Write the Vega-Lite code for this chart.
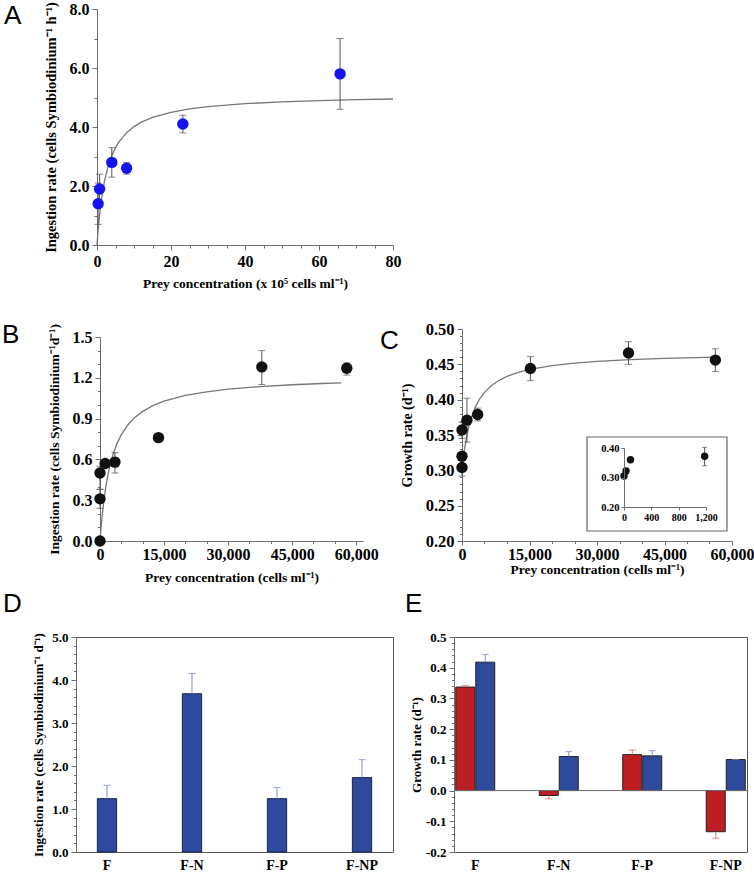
{
  "$schema": "https://vega.github.io/schema/vega-lite/v6.json",
  "padding": {"left": 2, "top": 1, "right": 5, "bottom": 0},
  "background": "white",
  "config": {
    "view": {"stroke": null},
    "axis": {"grid": false, "labelOverlap": false, "labelFlush": false, "domainColor": "#6e6e6e", "tickColor": "#6e6e6e", "labelColor": "#000", "titleColor": "#000", "labelFont": "Liberation Serif", "titleFont": "Liberation Serif", "labelFontWeight": "bold", "titleFontWeight": "bold", "tickSize": 5, "labelPadding": 3},
    "title": {"font": "Liberation Sans", "fontWeight": "normal", "fontSize": 26, "anchor": "start", "frame": "group", "offset": 0, "baseline": "alphabetic", "color": "#000"}
  },
  "datasets": {
    "curveA": [{"x":0,"y":0},{"x":0.25,"y":0.425},{"x":0.5,"y":0.785},{"x":1,"y":1.362},{"x":1.5,"y":1.803},{"x":2,"y":2.151},{"x":3,"y":2.667},{"x":4,"y":3.03},{"x":5,"y":3.299},{"x":6,"y":3.507},{"x":8,"y":3.807},{"x":10,"y":4.013},{"x":12,"y":4.163},{"x":15,"y":4.324},{"x":20,"y":4.499},{"x":25,"y":4.611},{"x":30,"y":4.689},{"x":40,"y":4.79},{"x":50,"y":4.852},{"x":60,"y":4.895},{"x":70,"y":4.926},{"x":80,"y":4.949}],
    "ptsA": [{"x":0.3,"y":1.4,"lo":0.7,"hi":2.1},{"x":0.7,"y":1.9,"lo":1.4,"hi":2.4},{"x":4.0,"y":2.8,"lo":2.3,"hi":3.3},{"x":8.0,"y":2.6,"lo":2.4,"hi":2.8},{"x":23.2,"y":4.1,"lo":3.8,"hi":4.4},{"x":65.7,"y":5.8,"lo":4.6,"hi":7.0}],
    "curveB": [{"x":0,"y":0},{"x":250,"y":0.1},{"x":500,"y":0.185},{"x":1000,"y":0.321},{"x":1500,"y":0.426},{"x":2000,"y":0.508},{"x":3000,"y":0.631},{"x":4000,"y":0.718},{"x":5000,"y":0.782},{"x":6500,"y":0.853},{"x":8000,"y":0.904},{"x":10000,"y":0.953},{"x":12500,"y":0.997},{"x":15000,"y":1.028},{"x":20000,"y":1.07},{"x":25000,"y":1.097},{"x":30000,"y":1.116},{"x":37500,"y":1.135},{"x":45000,"y":1.149},{"x":52000,"y":1.158},{"x":56500,"y":1.162}],
    "ptsB": [{"x":0,"y":0.0},{"x":0,"y":0.31,"lo":0.24,"hi":0.38},{"x":0,"y":0.5,"lo":0.38,"hi":0.55},{"x":1200,"y":0.57},{"x":3500,"y":0.58,"lo":0.5,"hi":0.65},{"x":13700,"y":0.76},{"x":37900,"y":1.28,"lo":1.15,"hi":1.4},{"x":57800,"y":1.27,"lo":1.22,"hi":1.31}],
    "curveC": [{"x":0,"y":0.3},{"x":250,"y":0.3148},{"x":500,"y":0.3271},{"x":1000,"y":0.3467},{"x":1500,"y":0.3614},{"x":2000,"y":0.373},{"x":3000,"y":0.3899},{"x":4000,"y":0.4017},{"x":5000,"y":0.4103},{"x":6500,"y":0.4197},{"x":8000,"y":0.4265},{"x":10000,"y":0.433},{"x":12500,"y":0.4387},{"x":15000,"y":0.4428},{"x":20000,"y":0.4482},{"x":25000,"y":0.4517},{"x":30000,"y":0.4541},{"x":37500,"y":0.4566},{"x":45000,"y":0.4583},{"x":52000,"y":0.4595},{"x":56500,"y":0.4601}],
    "ptsC": [{"x":0,"y":0.304,"lo":0.292,"hi":0.316},{"x":0,"y":0.32},{"x":0,"y":0.357,"lo":0.345,"hi":0.368},{"x":1100,"y":0.371,"lo":0.34,"hi":0.402},{"x":3480,"y":0.379,"lo":0.37,"hi":0.388},{"x":15200,"y":0.444,"lo":0.427,"hi":0.461},{"x":37000,"y":0.466,"lo":0.45,"hi":0.482},{"x":56300,"y":0.456,"lo":0.44,"hi":0.472}],
    "ptsInset": [{"x":0,"y":0.305},{"x":30,"y":0.322},{"x":95,"y":0.36},{"x":1180,"y":0.372,"lo":0.34,"hi":0.402}],
    "barsD": [{"cat":"F","v":1.24,"hi":1.55},{"cat":"F-N","v":3.68,"hi":4.15},{"cat":"F-P","v":1.24,"hi":1.5},{"cat":"F-NP","v":1.73,"hi":2.15}],
    "barsE": [{"cat":"F","s":"r","v":0.337,"e":0.342},{"cat":"F","s":"b","v":0.418,"e":0.443},{"cat":"F-N","s":"r","v":-0.016,"e":-0.027},{"cat":"F-N","s":"b","v":0.111,"e":0.127},{"cat":"F-P","s":"r","v":0.117,"e":0.132},{"cat":"F-P","s":"b","v":0.113,"e":0.13},{"cat":"F-NP","s":"r","v":-0.134,"e":-0.155},{"cat":"F-NP","s":"b","v":0.101,"e":0.101}]
  },
  "bounds": "flush",
  "columns": 2,
  "spacing": {"row": 84, "column": 61},
  "concat": [
    {
      "width": 317, "height": 236,
      "title": {"text": "A", "dx": -72, "dy": 32},
      "layer": [
        {"layer": [
          {"data": {"name": "curveA"}, "mark": {"type": "line", "color": "#777", "strokeWidth": 1.3},
           "encoding": {
             "x": {"field": "x", "type": "quantitative", "scale": {"domain": [0, 80], "range": [21, 317], "nice": false}, "axis": {"orient": "bottom", "values": [0,20,40,60,80], "labelFlush": false, "title": "Prey concentration (x 10⁵ cells ml⁻¹)", "labelFontSize": 16, "titleFontSize": 13.5, "titlePadding": 7}},
             "y": {"field": "y", "type": "quantitative", "scale": {"domain": [0, 8], "nice": false}, "axis": {"orient": "left", "values": [0,2,4,6,8], "labelExpr": "format(datum.value, '.1f')", "offset": -21, "title": "Ingestion rate (cells Symbiodinium⁻¹ h⁻¹)", "labelFontSize": 16, "titleFontSize": 14.5, "titlePadding": 11}}
           }},
          {"data": {"name": "ptsA"}, "mark": {"type": "rule", "color": "#555"},
           "encoding": {"x": {"field": "x", "type": "quantitative"}, "y": {"field": "lo", "type": "quantitative"}, "y2": {"field": "hi"}}},
          {"data": {"name": "ptsA"}, "mark": {"type": "tick", "orient": "horizontal", "size": 7, "thickness": 1, "color": "#555"},
           "encoding": {"x": {"field": "x", "type": "quantitative"}, "y": {"field": "lo", "type": "quantitative"}}},
          {"data": {"name": "ptsA"}, "mark": {"type": "tick", "orient": "horizontal", "size": 7, "thickness": 1, "color": "#555"},
           "encoding": {"x": {"field": "x", "type": "quantitative"}, "y": {"field": "hi", "type": "quantitative"}}},
          {"data": {"name": "ptsA"}, "mark": {"type": "circle", "size": 130, "color": "#1414f0", "opacity": 1},
           "encoding": {"x": {"field": "x", "type": "quantitative"}, "y": {"field": "y", "type": "quantitative"}}}
        ]},
        {"data": {"values": [{}]}, "mark": {"type": "point", "opacity": 0},
         "encoding": {
           "x": {"datum": 0, "type": "quantitative", "axis": {"orient": "bottom", "values": [5,10,15,25,30,35,45,50,55,65,70,75], "labels": false, "domain": false, "tickSize": 3, "title": null}},
           "y": {"datum": 0, "type": "quantitative", "axis": {"orient": "left", "offset": -21, "values": [1,3,5,7], "labels": false, "domain": false, "tickSize": 3, "title": null}}
         }}
      ],
      "resolve": {"axis": {"x": "independent", "y": "independent"}}
    },
    {"width": 1, "height": 1, "data": {"values": []}, "mark": "point"},
    {
      "width": 287, "height": 224,
      "title": {"text": "B", "dx": -74, "dy": 28},
      "layer": [
        {"layer": [
          {"data": {"name": "curveB"}, "mark": {"type": "line", "color": "#777", "strokeWidth": 1.3},
           "encoding": {
             "x": {"field": "x", "type": "quantitative", "scale": {"domain": [0, 61600], "range": [24, 287], "nice": false}, "axis": {"orient": "bottom", "values": [0,15000,30000,45000,60000], "labelExpr": "format(datum.value, ',')", "labelFlush": false, "offset": -12, "tickSize": 4, "labelPadding": 1, "title": "Prey concentration (cells ml⁻¹)", "labelFontSize": 16, "titleFontSize": 13.5, "titlePadding": 8}},
             "y": {"field": "y", "type": "quantitative", "scale": {"domain": [0, 1.5], "range": [212, 8], "nice": false}, "axis": {"orient": "left", "values": [0,0.3,0.6,0.9,1.2,1.5], "labelExpr": "format(datum.value, '.1f')", "offset": -24, "title": "Ingestion rate (cells Symbiodinium⁻¹d⁻¹)", "labelFontSize": 16, "titleFontSize": 13.5, "titlePadding": 11}}
           }},
          {"data": {"name": "ptsB"}, "transform": [{"filter": "isValid(datum.lo)"}], "mark": {"type": "rule", "color": "#555"},
           "encoding": {"x": {"field": "x", "type": "quantitative"}, "y": {"field": "lo", "type": "quantitative"}, "y2": {"field": "hi"}}},
          {"data": {"name": "ptsB"}, "transform": [{"filter": "isValid(datum.lo)"}], "mark": {"type": "tick", "orient": "horizontal", "size": 7, "thickness": 1, "color": "#555"},
           "encoding": {"x": {"field": "x", "type": "quantitative"}, "y": {"field": "lo", "type": "quantitative"}}},
          {"data": {"name": "ptsB"}, "transform": [{"filter": "isValid(datum.lo)"}], "mark": {"type": "tick", "orient": "horizontal", "size": 7, "thickness": 1, "color": "#555"},
           "encoding": {"x": {"field": "x", "type": "quantitative"}, "y": {"field": "hi", "type": "quantitative"}}},
          {"data": {"name": "ptsB"}, "mark": {"type": "circle", "size": 130, "color": "#111", "opacity": 1},
           "encoding": {"x": {"field": "x", "type": "quantitative"}, "y": {"field": "y", "type": "quantitative"}}}
        ]},
        {"data": {"values": [{}]}, "mark": {"type": "point", "opacity": 0},
         "encoding": {
           "x": {"datum": 0, "type": "quantitative", "axis": {"orient": "bottom", "offset": -12, "values": [5000,10000,20000,25000,35000,40000,50000,55000], "labels": false, "domain": false, "tickSize": 2.5, "title": null}},
           "y": {"datum": 0, "type": "quantitative", "axis": {"orient": "left", "offset": -24, "values": [0.1,0.2,0.4,0.5,0.7,0.8,1.0,1.1,1.3,1.4], "labels": false, "domain": false, "tickSize": 2.5, "title": null}}
         }}
      ],
      "resolve": {"axis": {"x": "independent", "y": "independent"}}
    },
    {
      "width": 278, "height": 212,
      "title": {"text": "C", "dx": -74, "dy": 37},
      "layer": [
        {"layer": [
          {"data": {"name": "curveC"}, "mark": {"type": "line", "color": "#777", "strokeWidth": 1.3},
           "encoding": {
             "x": {"field": "x", "type": "quantitative", "scale": {"domain": [0, 60000], "range": [8, 278], "nice": false}, "axis": {"orient": "bottom", "values": [0,15000,30000,45000,60000], "labelExpr": "format(datum.value, ',')", "labelOverlap": false, "labelFlush": false, "tickSize": 4, "labelPadding": 1, "title": "Prey concentration (cells ml⁻¹)", "labelFontSize": 16, "titleFontSize": 13.5, "titlePadding": 0}},
             "y": {"field": "y", "type": "quantitative", "scale": {"domain": [0.2, 0.5], "nice": false, "zero": false}, "axis": {"orient": "left", "values": [0.2,0.25,0.3,0.35,0.4,0.45,0.5], "labelExpr": "format(datum.value, '.2f')", "labelOverlap": false, "labelBound": false, "offset": -8, "title": "Growth rate (d⁻¹)", "labelFontSize": 16.5, "titleFontSize": 14, "titlePadding": 11}}
           }},
          {"data": {"name": "ptsC"}, "transform": [{"filter": "isValid(datum.lo)"}], "mark": {"type": "rule", "color": "#555"},
           "encoding": {"x": {"field": "x", "type": "quantitative", "axis": null}, "y": {"field": "lo", "type": "quantitative", "axis": null}, "y2": {"field": "hi"}}},
          {"data": {"name": "ptsC"}, "transform": [{"filter": "isValid(datum.lo)"}], "mark": {"type": "tick", "orient": "horizontal", "size": 7, "thickness": 1, "color": "#555"},
           "encoding": {"x": {"field": "x", "type": "quantitative", "axis": null}, "y": {"field": "lo", "type": "quantitative", "axis": null}}},
          {"data": {"name": "ptsC"}, "transform": [{"filter": "isValid(datum.lo)"}], "mark": {"type": "tick", "orient": "horizontal", "size": 7, "thickness": 1, "color": "#555"},
           "encoding": {"x": {"field": "x", "type": "quantitative", "axis": null}, "y": {"field": "hi", "type": "quantitative", "axis": null}}},
          {"data": {"name": "ptsC"}, "mark": {"type": "circle", "size": 130, "color": "#111", "opacity": 1},
           "encoding": {"x": {"field": "x", "type": "quantitative", "axis": null}, "y": {"field": "y", "type": "quantitative", "axis": null}}},
          {"data": {"values": [{}]}, "mark": {"type": "point", "opacity": 0},
           "encoding": {
             "x": {"datum": 0, "type": "quantitative", "axis": {"orient": "bottom", "values": [5000,10000,20000,25000,35000,40000,50000,55000], "labels": false, "domain": false, "tickSize": 2.5, "title": null}},
             "y": {"datum": 0.3, "type": "quantitative", "axis": {"orient": "left", "offset": -8, "values": [0.21,0.22,0.23,0.24,0.26,0.27,0.28,0.29,0.31,0.32,0.33,0.34,0.36,0.37,0.38,0.39,0.41,0.42,0.43,0.44,0.46,0.47,0.48,0.49], "labels": false, "domain": false, "tickSize": 2.5, "title": null}}
           }}
        ], "resolve": {"axis": {"x": "independent", "y": "independent"}}},
        {"layer": [
          {"data": {"values": [{}]}, "mark": {"type": "rect", "fill": "white", "stroke": "#666", "strokeWidth": 1.2},
           "encoding": {
             "x": {"datum": -541, "type": "quantitative", "scale": {"domain": [0, 1200], "range": [170, 252], "nice": false}, "axis": {"orient": "bottom", "offset": -34, "zindex": 2, "values": [0,400,800,1200], "labelExpr": "format(datum.value, ',')", "labelOverlap": false, "labelFlush": false, "title": null, "labelFontSize": 10, "tickSize": 3, "labelPadding": 2}},
             "x2": {"datum": 1507},
             "y": {"datum": 0.1186, "type": "quantitative", "scale": {"domain": [0.2, 0.4], "range": [178, 119], "nice": false, "zero": false}, "axis": {"orient": "left", "offset": -170, "zindex": 2, "values": [0.2,0.3,0.4], "labelExpr": "format(datum.value, '.2f')", "labelOverlap": false, "title": null, "labelFontSize": 10.5, "tickSize": 3, "labelPadding": 2}},
             "y2": {"datum": 0.4373}
           }},
          {"data": {"name": "ptsInset"}, "transform": [{"filter": "isValid(datum.lo)"}], "mark": {"type": "rule", "color": "#555"},
           "encoding": {"x": {"field": "x", "type": "quantitative"}, "y": {"field": "lo", "type": "quantitative"}, "y2": {"field": "hi"}}},
          {"data": {"name": "ptsInset"}, "transform": [{"filter": "isValid(datum.lo)"}], "mark": {"type": "tick", "orient": "horizontal", "size": 5, "thickness": 1, "color": "#555"},
           "encoding": {"x": {"field": "x", "type": "quantitative"}, "y": {"field": "lo", "type": "quantitative"}}},
          {"data": {"name": "ptsInset"}, "transform": [{"filter": "isValid(datum.lo)"}], "mark": {"type": "tick", "orient": "horizontal", "size": 5, "thickness": 1, "color": "#555"},
           "encoding": {"x": {"field": "x", "type": "quantitative"}, "y": {"field": "hi", "type": "quantitative"}}},
          {"data": {"name": "ptsInset"}, "mark": {"type": "circle", "size": 55, "color": "#111", "opacity": 1},
           "encoding": {"x": {"field": "x", "type": "quantitative"}, "y": {"field": "y", "type": "quantitative"}}}
        ]}
      ],
      "resolve": {"scale": {"x": "independent", "y": "independent"}}
    },
    {
      "width": 317, "height": 215, "view": {"stroke": "#555"},
      "title": {"text": "D", "dx": -73, "dy": -10},
      "layer": [
        {"data": {"name": "barsD"}, "layer": [
          {"mark": {"type": "bar", "color": "#2E4A9C", "stroke": "#1b2450", "strokeWidth": 1},
           "encoding": {
             "x": {"field": "cat", "type": "nominal", "sort": ["F","F-N","F-P","F-NP"], "scale": {"paddingInner": 0.773, "paddingOuter": 0.251}, "axis": {"title": null, "labelAngle": 0, "ticks": false, "domain": false, "labelFontSize": 14, "labelPadding": 6}},
             "y": {"field": "v", "type": "quantitative", "scale": {"domain": [0, 5], "nice": false}, "axis": {"orient": "left", "values": [0,1,2,3,4,5], "labelExpr": "format(datum.value, '.1f')", "labelOverlap": false, "title": "Ingestion rate (cells Symbiodinium⁻¹ d⁻¹)", "labelFontSize": 13, "titleFontSize": 13, "titlePadding": 6}}
           }},
          {"mark": {"type": "rule", "color": "#8190d0"},
           "encoding": {"x": {"field": "cat", "type": "nominal", "sort": ["F","F-N","F-P","F-NP"]}, "y": {"field": "v", "type": "quantitative"}, "y2": {"field": "hi"}}},
          {"mark": {"type": "tick", "orient": "horizontal", "size": 7, "thickness": 1.2, "color": "#8190d0"},
           "encoding": {"x": {"field": "cat", "type": "nominal", "sort": ["F","F-N","F-P","F-NP"]}, "y": {"field": "hi", "type": "quantitative"}}}
        ]},
        {"data": {"values": [{}]}, "mark": {"type": "point", "opacity": 0},
         "encoding": {
           "y": {"datum": 0, "type": "quantitative", "axis": {"orient": "left", "values": [0.2,0.4,0.6,0.8,1.2,1.4,1.6,1.8,2.2,2.4,2.6,2.8,3.2,3.4,3.6,3.8,4.2,4.4,4.6,4.8], "labels": false, "domain": false, "tickSize": 2.5, "title": null}}
         }}
      ],
      "resolve": {"axis": {"y": "independent"}}
    },
    {
      "width": 293, "height": 215, "view": {"stroke": "#555"},
      "title": {"text": "E", "dx": -49, "dy": -10},
      "layer": [
        {"data": {"name": "barsE"}, "mark": {"type": "bar", "stroke": "#222", "strokeWidth": 1},
         "encoding": {
           "x": {"field": "cat", "type": "nominal", "sort": ["F","F-N","F-P","F-NP"], "scale": {"paddingInner": 0.533, "paddingOuter": 0.021}, "axis": {"title": null, "labelAngle": 0, "ticks": false, "domain": false, "labelFontSize": 14, "labelPadding": 6}},
           "xOffset": {"field": "s", "type": "nominal", "scale": {"domain": ["r","b"], "paddingInner": 0.05}},
           "y": {"field": "v", "type": "quantitative", "scale": {"domain": [-0.2, 0.5], "nice": false, "zero": false}, "axis": {"orient": "left", "values": [-0.2,-0.1,0,0.1,0.2,0.3,0.4,0.5], "labelExpr": "replace(format(datum.value, '.1f'), '−', '-')", "labelOverlap": false, "labelBound": false, "title": "Growth rate (d⁻¹)", "labelFontSize": 13, "titleFontSize": 13, "titlePadding": 2}},
           "color": {"field": "s", "type": "nominal", "scale": {"domain": ["r","b"], "range": ["#BD1E24","#2E4A9C"]}, "legend": null}
         }},
        {"data": {"values": [{}]}, "mark": {"type": "rule", "color": "#6e6e6e"},
         "encoding": {"y": {"datum": 0, "type": "quantitative", "axis": null}}},
        {"data": {"name": "barsE"}, "layer": [
          {"mark": {"type": "rule"},
           "encoding": {"x": {"field": "cat", "type": "nominal", "sort": ["F","F-N","F-P","F-NP"]}, "xOffset": {"field": "s", "type": "nominal"}, "y": {"field": "v", "type": "quantitative", "axis": null}, "y2": {"field": "e"},
             "color": {"field": "s", "type": "nominal", "scale": {"domain": ["r","b"], "range": ["#e07676","#8190d0"]}, "legend": null}}},
          {"mark": {"type": "tick", "orient": "horizontal", "size": 7, "thickness": 1.2},
           "encoding": {"x": {"field": "cat", "type": "nominal", "sort": ["F","F-N","F-P","F-NP"]}, "xOffset": {"field": "s", "type": "nominal"}, "y": {"field": "e", "type": "quantitative", "axis": null},
             "color": {"field": "s", "type": "nominal", "scale": {"domain": ["r","b"], "range": ["#e07676","#8190d0"]}, "legend": null}}}
        ]},
        {"data": {"values": [{}]}, "mark": {"type": "point", "opacity": 0},
         "encoding": {
           "y": {"datum": 0, "type": "quantitative", "axis": {"orient": "left", "values": [-0.18,-0.16,-0.14,-0.12,-0.08,-0.06,-0.04,-0.02,0.02,0.04,0.06,0.08,0.12,0.14,0.16,0.18,0.22,0.24,0.26,0.28,0.32,0.34,0.36,0.38,0.42,0.44,0.46,0.48], "labels": false, "domain": false, "tickSize": 2.5, "title": null}}
         }}
      ],
      "resolve": {"scale": {"color": "independent"}, "axis": {"y": "independent"}}
    }
  ]
}
